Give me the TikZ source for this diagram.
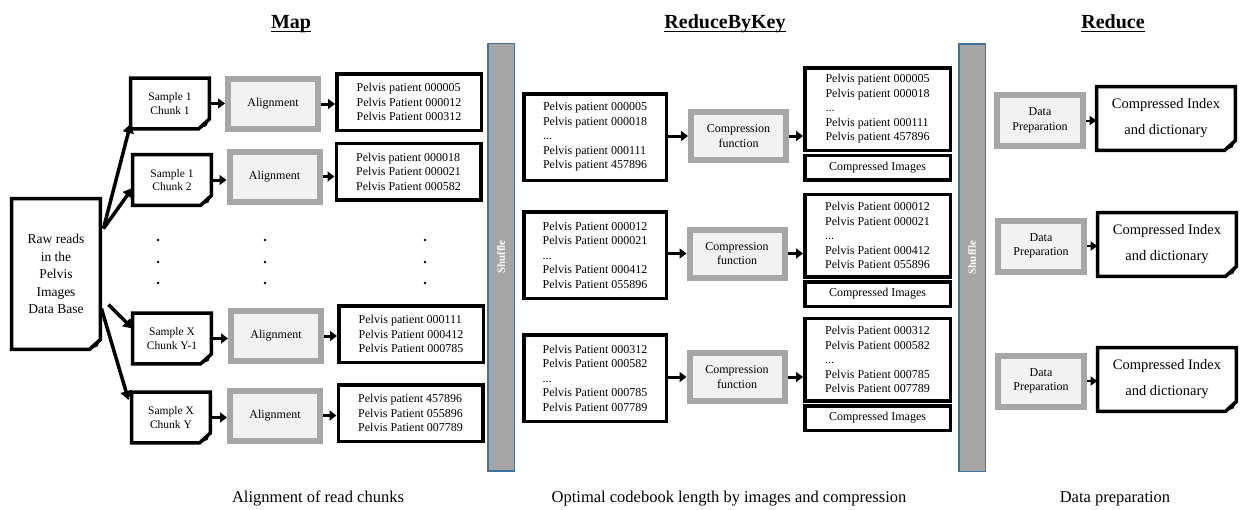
\documentclass[tikz,border=0pt]{standalone}
\usepackage{fontspec}
\setmainfont{Liberation Serif}
\usetikzlibrary{arrows.meta,positioning}
\definecolor{procgray}{HTML}{A6A6A6}
\definecolor{procfill}{HTML}{F2F2F2}
\definecolor{bargray}{HTML}{A5A5A5}
\definecolor{barblue}{HTML}{41719C}
% page outline with a turned-up corner, drawn round a named node
\newcommand{\foldpage}[1]{%
  \draw[docline] (#1.north west) -- (#1.north east) -- ([yshift=10pt]#1.south east)
    -- ([xshift=-11pt]#1.south east) -- (#1.south west) -- cycle;
  \fill ([yshift=10pt]#1.south east) -- ([xshift=-11pt]#1.south east)
    -- ([shift={(-3pt,3pt)}]#1.south east) -- cycle;}

\begin{document}
\begin{tikzpicture}[
    x=1pt, y=-1pt,
    font=\fontsize{12}{14.5}\selectfont,
    node distance=0mm,
    docline/.style={line width=3.5pt},
    page/.style={inner sep=0pt, align=center},
    chunkpage/.style={page, minimum width=78.5pt, minimum height=50.5pt, font=\fontsize{11.5}{13.5}\selectfont},
    indexpage/.style={page, minimum width=138.5pt, minimum height=63.5pt, font=\fontsize{14.5}{26}\selectfont},
    proc/.style={draw=procgray, fill=procfill, line width=6pt, inner sep=0pt, align=center},
    alignproc/.style={proc, minimum width=90pt, minimum height=50pt},
    compproc/.style={proc, minimum width=95pt, minimum height=48pt},
    prepproc/.style={proc, minimum width=86pt, minimum height=51pt},
    listbox/.style={draw, line width=3.5pt, inner sep=0pt, align=left},
    maplist/.style={listbox, minimum width=144.5pt, minimum height=56.5pt},
    keylist/.style={listbox, minimum width=142.5pt, minimum height=86.5pt},
    outlist/.style={listbox, minimum width=145.5pt, minimum height=82.5pt},
    outtag/.style={listbox, minimum width=145.5pt, minimum height=24.5pt},
    shufflebar/.style={draw=barblue, fill=bargray, line width=1.5pt, rotate=90,
        minimum width=427.5pt, minimum height=26.5pt, inner sep=0pt,
        text=white, font=\fontsize{11}{13}\selectfont\bfseries},
    heading/.style={inner sep=0pt, anchor=base, font=\fontsize{20}{24}\selectfont\bfseries},
    caption/.style={inner sep=0pt, anchor=base, font=\fontsize{16.5}{20}\selectfont},
    link/.style={-{Triangle[length=7pt,width=10pt]}, line width=3pt},
    fan/.style={-{Triangle[length=9pt,width=11pt]}, line width=3.5pt}
]
\useasboundingbox (0,0) rectangle (1245,509);

% headings
\node[heading] (hmap) at (291,28) {Map};
\node[heading] (hkey) at (725,28) {ReduceByKey};
\node[heading] (hred) at (1113,28) {Reduce};
\foreach \h in {hmap,hkey,hred}
  \draw[line width=1.8pt] ([yshift=-3.5pt]\h.base west) -- ([yshift=-3.5pt]\h.base east);

% Map
\node[page, minimum width=88.5pt, minimum height=150.5pt, font=\fontsize{13.5}{17.5}\selectfont] (raw) at (56,274) {Raw reads\\in the\\Pelvis\\Images\\Data Base};
\foldpage{raw}

\node[chunkpage] (chunk1) at (170,103.5) {Sample 1\\Chunk 1};
\node[chunkpage] (chunk2) at (172,180) {Sample 1\\Chunk 2};
\node[chunkpage] (chunk3) at (172,338.5) {Sample X\\Chunk Y-1};
\node[chunkpage] (chunk4) at (171,417.5) {Sample X\\Chunk Y};
\foreach \c in {chunk1,chunk2,chunk3,chunk4} {
  \foldpage{\c}
}

\node[alignproc] (align1) at (273,104) {Alignment};
\node[alignproc] (align2) at (274.5,176.5) {Alignment};
\node[alignproc] (align3) at (276,336) {Alignment};
\node[alignproc] (align4) at (275,415.5) {Alignment};

\node[maplist] (map1) at (409,102) {Pelvis patient 000005\\Pelvis Patient 000012\\Pelvis Patient 000312};
\node[maplist] (map2) at (408.5,171.5) {Pelvis patient 000018\\Pelvis Patient 000021\\Pelvis Patient 000582};
\node[maplist] (map3) at (411,334) {Pelvis patient 000111\\Pelvis Patient 000412\\Pelvis Patient 000785};
\node[maplist] (map4) at (410.5,413) {Pelvis patient 457896\\Pelvis Patient 055896\\Pelvis Patient 007789};

\foreach \x in {158,265,425}
  \foreach \y in {240,262,283}
    \fill (\x,\y) circle (1.3pt);

\draw[fan] ([shift={(3pt,-30pt)}]raw.north east) -- ([yshift=5pt]chunk1.south west);
\draw[fan] ([shift={(3pt,-30pt)}]raw.north east) -- ([yshift=-8pt]chunk2.west);
\draw[fan] ([shift={(8pt,-106pt)}]raw.north east) -- ([yshift=10pt]chunk3.west);
\draw[fan] ([shift={(1pt,-110pt)}]raw.north east) -- ([shift={(-3pt,-8pt)}]chunk4.north west);

\foreach \i in {1,2,3,4} {
  \draw[link] (chunk\i.east) -- (chunk\i.east -| align\i.west);
  \draw[link] (align\i.east) -- (align\i.east -| map\i.west);
}

\node[shufflebar] (shuffle1) at (501,257) {Shuffle};

% ReduceByKey
\node[keylist] (key1) at (595,137) {Pelvis patient 000005\\Pelvis patient 000018\\...\\Pelvis patient 000111\\Pelvis patient 457896};
\node[keylist] (key2) at (595,255) {Pelvis Patient 000012\\Pelvis Patient 000021\\...\\Pelvis Patient 000412\\Pelvis Patient 055896};
\node[keylist] (key3) at (595,378) {Pelvis Patient 000312\\Pelvis Patient 000582\\...\\Pelvis Patient 000785\\Pelvis Patient 007789};

\node[compproc] (comp1) at (738.5,136) {Compression\\function};
\node[compproc] (comp2) at (737,253.5) {Compression\\function};
\node[compproc] (comp3) at (737,377) {Compression\\function};

\node[outlist] (out1) at (877.5,109) {Pelvis patient 000005\\Pelvis patient 000018\\...\\Pelvis patient 000111\\Pelvis patient 457896};
\node[outlist] (out2) at (877.5,235.5) {Pelvis Patient 000012\\Pelvis Patient 000021\\...\\Pelvis Patient 000412\\Pelvis Patient 055896};
\node[outlist] (out3) at (877.5,359.5) {Pelvis Patient 000312\\Pelvis Patient 000582\\...\\Pelvis Patient 000785\\Pelvis Patient 007789};
\foreach \i in {1,2,3}
  \node[outtag, below=1.5pt of out\i] (tag\i) {Compressed Images};

\foreach \i in {1,2,3} {
  \draw[link] (comp\i.west -| key\i.east) -- (comp\i.west);
  \draw[link] (comp\i.east) -- (comp\i.east -| out\i.west);
}

\node[shufflebar] (shuffle2) at (972,257.5) {Shuffle};

% Reduce
\node[prepproc] (prep1) at (1040,120.5) {Data\\Preparation};
\node[prepproc] (prep2) at (1041,246) {Data\\Preparation};
\node[prepproc] (prep3) at (1041,381) {Data\\Preparation};

\node[indexpage] (index1) at (1166,118.5) {Compressed Index\\and dictionary};
\node[indexpage] (index2) at (1167,244.5) {Compressed Index\\and dictionary};
\node[indexpage] (index3) at (1167,379.5) {Compressed Index\\and dictionary};
\foreach \i in {1,2,3} {
  \foldpage{index\i}
  \draw[-{Triangle[length=7pt,width=9pt]}, line width=2pt] (prep\i.east) -- (prep\i.east -| index\i.west);
}

% captions
\node[caption] (capmap) at (318,502) {Alignment of read chunks};
\node[caption] (capkey) at (729,502) {Optimal codebook length by images and compression};
\node[caption] (capred) at (1115,502) {Data preparation};
\end{tikzpicture}
\end{document}
